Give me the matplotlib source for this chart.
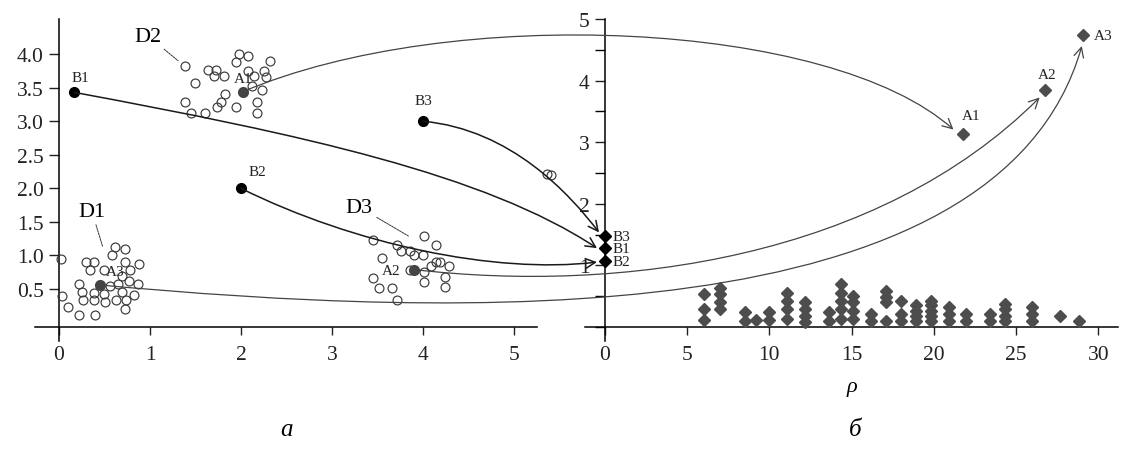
"""Clusters D1-D3 (a) and their projection on rho axis (б)"""
import matplotlib
matplotlib.use('Agg')
import matplotlib.pyplot as plt
import numpy as np
from matplotlib.patches import FancyArrowPatch
from matplotlib.path import Path
from matplotlib.transforms import IdentityTransform
from matplotlib.ticker import MultipleLocator

plt.rcParams['font.family'] = ['Liberation Serif', 'DejaVu Serif']

# --- Data: panel a (open circles) ---
d1_x = [0.02, 0.62, 0.73, 0.58, 0.30, 0.38, 0.34, 0.49, 0.73, 0.88, 0.78, 0.69, 0.77, 0.87,
        0.22, 0.56, 0.65, 0.25, 0.38, 0.49, 0.03, 0.69, 0.82, 0.26, 0.38, 0.51, 0.63, 0.74,
        0.10, 0.22, 0.39, 0.73]
d1_y = [0.95, 1.12, 1.09, 1.01, 0.90, 0.90, 0.79, 0.79, 0.90, 0.87, 0.79, 0.70, 0.62, 0.58,
        0.58, 0.55, 0.58, 0.46, 0.44, 0.43, 0.39, 0.45, 0.41, 0.34, 0.33, 0.30, 0.34, 0.34,
        0.23, 0.11, 0.11, 0.20]
d2_x = [1.39, 1.49, 1.39, 1.45, 1.60, 1.98, 2.08, 1.94, 2.32, 1.64, 1.73, 1.70, 1.81, 2.08,
        2.25, 2.14, 2.28, 2.12, 2.23, 1.82, 1.78, 1.74, 1.94, 2.18, 2.18]
d2_y = [3.83, 3.57, 3.28, 3.13, 3.13, 4.00, 3.98, 3.89, 3.90, 3.77, 3.77, 3.67, 3.67, 3.75,
        3.75, 3.67, 3.66, 3.52, 3.46, 3.41, 3.29, 3.21, 3.21, 3.29, 3.13]
d3_x = [3.45, 4.01, 4.14, 3.71, 3.76, 3.86, 3.90, 4.00, 3.55, 3.86, 4.01, 4.09, 4.14, 4.19,
        4.29, 4.01, 4.24, 3.45, 3.52, 3.66, 3.71, 4.24]
d3_y = [1.23, 1.29, 1.16, 1.16, 1.07, 1.06, 1.00, 1.01, 0.96, 0.79, 0.75, 0.85, 0.90, 0.91,
        0.85, 0.61, 0.68, 0.67, 0.52, 0.52, 0.34, 0.53]
stray_x = [5.36, 5.41]
stray_y = [2.21, 2.20]

# reference points B (black) and cluster centres A (grey)
b_names = ['B1', 'B2', 'B3']
b_x = [0.17, 2.0, 4.0]
b_y = [3.43, 2.0, 3.0]
a_names = ['A1', 'A2', 'A3']
a_x = [2.02, 3.90, 0.45]
a_y = [3.44, 0.79, 0.56]

# --- Data: panel б ---
rho = [6.0, 6.0, 6.0,
       7.0, 7.0, 7.0, 7.0,
       8.5, 8.5, 9.2, 9.95, 9.95,
       11.05, 11.05, 11.05, 11.05,
       12.15, 12.15, 12.15, 12.15,
       13.6, 13.6,
       14.35, 14.35, 14.35, 14.35, 14.35,
       15.1, 15.1, 15.1, 15.1,
       16.15, 16.15,
       17.1, 17.1, 17.1, 17.1,
       18.0, 18.0, 18.0,
       18.9, 18.9, 18.9, 18.9,
       19.8, 19.8, 19.8, 19.8, 19.8,
       20.9, 20.9, 20.9,
       21.95, 21.95, 23.4, 23.4,
       24.3, 24.3, 24.3, 24.3,
       25.95, 25.95, 25.95,
       27.7, 28.85]
height = [0.12, 0.30, 0.54,
          0.29, 0.40, 0.53, 0.64,
          0.10, 0.24, 0.12, 0.12, 0.25,
          0.13, 0.30, 0.43, 0.55,
          0.08, 0.18, 0.29, 0.40,
          0.10, 0.24,
          0.13, 0.29, 0.43, 0.56, 0.70,
          0.13, 0.26, 0.40, 0.51,
          0.10, 0.21,
          0.10, 0.40, 0.48, 0.59,
          0.10, 0.21, 0.43,
          0.09, 0.18, 0.26, 0.35,
          0.10, 0.18, 0.26, 0.35, 0.43,
          0.10, 0.21, 0.32,
          0.10, 0.21, 0.10, 0.21,
          0.10, 0.18, 0.29, 0.37,
          0.10, 0.21, 0.32,
          0.18, 0.10]
rb_y = [1.28, 1.07, 1.47]        # B1, B2, B3 on the rho = 0 axis
ra_rho = [21.8, 26.74, 29.06]    # A1, A2, A3
ra_y = [3.14, 3.84, 4.74]

# --- Figure ---
W, H = 1121, 452
fig = plt.figure(figsize=(W / 100, H / 100), dpi=100, facecolor='white')
ax1 = fig.add_axes([35 / W, 124 / H, 502 / W, 308 / H])
ax2 = fig.add_axes([585 / W, 124 / H, 533 / W, 308 / H])
for ax in (ax1, ax2):
    ax.patch.set_alpha(0)
    for s in ('top', 'right'):
        ax.spines[s].set_visible(False)
    ax.spines['left'].set_position(('data', 0))
    ax.spines['left'].set_linewidth(1.1)
    ax.spines['bottom'].set_linewidth(1.1)
    ax.tick_params(axis='x', direction='out', length=6, width=1.0, pad=7,
                   labelsize=15.5, colors='#222')
    ax.tick_params(axis='y', direction='out', length=7, width=1.0, pad=4,
                   labelsize=15.5, colors='#222')
    ax.tick_params(which='minor', axis='y', length=7, width=1.0)

ax1.set_xlim(-0.264, 5.253)
ax1.set_ylim(-0.066, 4.524)
ax1.spines['left'].set_bounds(-0.27, 4.524)
ax1.set_xticks(range(0, 6))
ax1.set_yticks(np.arange(0.5, 4.01, 0.5))
ax1.set_yticklabels([f'{v:.1f}' for v in np.arange(0.5, 4.01, 0.5)])

ax2.set_xlim(-1.216, 31.2)
ax2.set_ylim(0, 5)
ax2.spines['left'].set_bounds(-0.23, 5)
ax2.set_xticks(range(0, 31, 5))
ax2.set_yticks(range(1, 6))
ax2.yaxis.set_minor_locator(MultipleLocator(0.5))

# open circles
circ = dict(ls='none', marker='o', ms=6.4, mfc='none', mec='#3a3a3a', mew=0.85, zorder=3)
ax1.plot(d1_x, d1_y, **circ)
ax1.plot(d2_x, d2_y, **circ)
ax1.plot(d3_x, d3_y, **circ)
ax1.plot(stray_x, stray_y, clip_on=False, **circ)

ax1.plot(b_x, b_y, ls='none', marker='o', ms=7, color='black', zorder=4)
ax1.plot(a_x, a_y, ls='none', marker='o', ms=7, color='#444444', zorder=4)

lab = dict(fontsize=11, color='#222', ha='center', va='center',
           textcoords='offset pixels', zorder=5)
for name, x, y, off in zip(b_names, b_x, b_y, [(6, 15), (16, 17), (0, 21)]):
    ax1.annotate(name, (x, y), xytext=off, **lab)
for name, x, y, off in zip(a_names, a_x, a_y, [(0, 13), (-23, -1), (15, 13)]):
    ax1.annotate(name, (x, y), xytext=off, **lab)

# cluster names with leader lines
leader = dict(arrowstyle='-', lw=0.7, color='#333', ls=(0, (2, 1)), shrinkA=1, shrinkB=0)
ax1.annotate('D1', xy=(0.48, 1.13), xytext=(0.36, 1.66), fontsize=16, ha='center',
             va='center', arrowprops=leader)
ax1.annotate('D2', xy=(1.31, 3.90), xytext=(0.98, 4.27), fontsize=16, ha='center',
             va='center', arrowprops=leader)
ax1.annotate('D3', xy=(3.84, 1.29), xytext=(3.30, 1.72), fontsize=16, ha='center',
             va='center', arrowprops=leader)

# panel б markers
ax2.plot(rho, height, ls='none', marker='D', ms=6.4, color='#4d4d4d', zorder=3, clip_on=False)
ax2.plot([0, 0, 0], rb_y, ls='none', marker='D', ms=6.4, color='black', zorder=4, clip_on=False)
ax2.plot(ra_rho, ra_y, ls='none', marker='D', ms=6.4, color='#4d4d4d', zorder=4)
for name, y in zip(b_names, rb_y):
    ax2.annotate(name, (0, y), xytext=(8, 0), fontsize=11, color='#222',
                 ha='left', va='center', textcoords='offset pixels')
for name, x, y, off, ha in zip(a_names, ra_rho, ra_y, [(8, 18), (2, 16), (11, 0)],
                               ['center', 'center', 'left']):
    ax2.annotate(name, (x, y), xytext=off, fontsize=11, color='#222',
                 ha=ha, va='center', textcoords='offset pixels')

ax2.set_xlabel('ρ', fontsize=16, fontstyle='italic', labelpad=9)
fig.text(286 / W, 1 - 430 / H, 'а', fontsize=18, fontstyle='italic', ha='center', va='center')
fig.text(855 / W, 1 - 430 / H, 'б', fontsize=18, fontstyle='italic', ha='center', va='center')


# --- curved arrows between panels (pixel offsets of Bezier controls) ---
def link(pA, pB, tip, offA, offB, color, lw):
    p0 = ax1.transData.transform(pA)
    p3 = ax2.transData.transform(pB) + np.array(tip)
    c1 = p0 + np.array(offA)
    c2 = p3 + np.array(offB)
    path = Path([p0, c1, c2, p3], [Path.MOVETO, Path.CURVE4, Path.CURVE4, Path.CURVE4])
    arr = FancyArrowPatch(path=path, arrowstyle='->,head_length=0.5,head_width=0.25',
                          mutation_scale=14, color=color, lw=lw,
                          transform=IdentityTransform(), zorder=2)
    fig.add_artist(arr)


# A clusters -> rho axis
link((a_x[0], a_y[0]), (ra_rho[0], ra_y[0]), (-10, 4), (207, 88), (-123, 110), '#444', 0.9)
link((a_x[1], a_y[1]), (ra_rho[1], ra_y[1]), (-5, -7), (206, -24), (-161, -161), '#444', 0.9)
link((a_x[2], a_y[2]), (ra_rho[2], ra_y[2]), (-1, -11), (350, -32), (-83, -293), '#444', 0.9)
# B points -> rho = 0
link((b_x[0], b_y[0]), (0, rb_y[0]), (-8, 0), (226, -42), (-112, 74), '#1a1a1a', 1.1)
link((b_x[1], b_y[1]), (0, rb_y[1]), (-8, -1), (113, -56), (-102, -12), '#1a1a1a', 1.1)
link((b_x[2], b_y[2]), (0, rb_y[2]), (-6, 4), (88, -8), (-29, 38), '#1a1a1a', 1.1)

fig.savefig('out.png', dpi=100, facecolor='white')
plt.close(fig)
